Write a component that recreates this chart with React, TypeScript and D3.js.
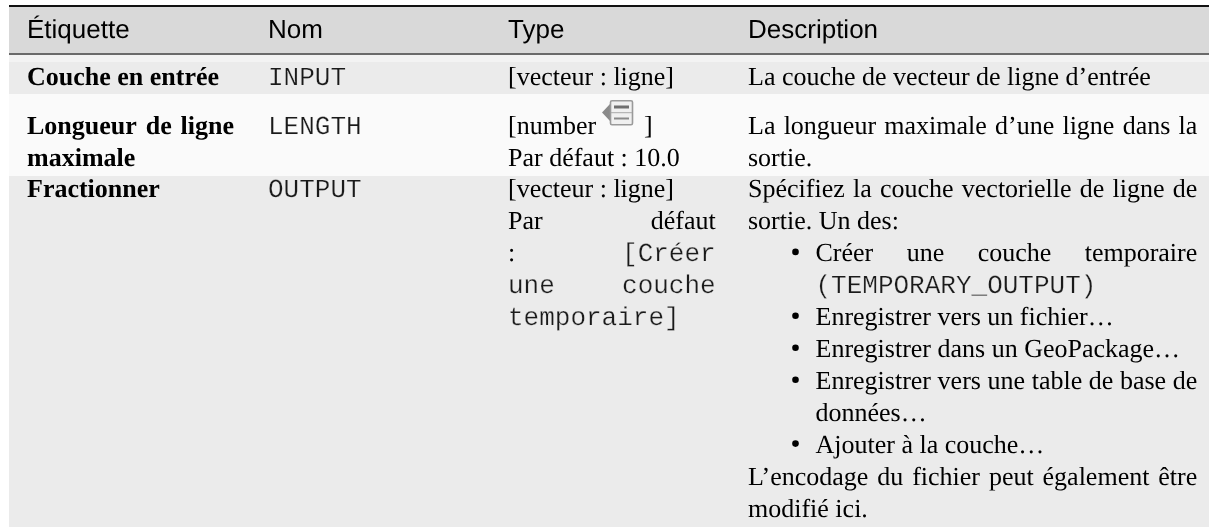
import React, { useEffect, useRef } from "react";
import * as d3 from "d3";

const W = 1209;
const H = 528;

// ---- content ----
const headers = ["Étiquette", "Nom", "Type", "Description"];
const nameCells = ["INPUT", "LENGTH", "OUTPUT"];

type Piece = { t: string; mono?: boolean };
type Line = { words: Piece[]; justify?: boolean; bullet?: boolean; indent?: boolean };

const s = (t: string, justify = false, bullet = false, indent = false): Line => ({
  words: justify ? t.split(" ").map((w) => ({ t: w })) : [{ t }],
  justify,
  bullet,
  indent,
});

const label0: Line[] = [s("Couche en entrée")];
const label1: Line[] = [s("Longueur de ligne", true), s("maximale")];
const label2: Line[] = [s("Fractionner")];

const type0: Line[] = [s("[vecteur : ligne]")];
const type1: Line[] = [s("Par défaut : 10.0")];
const type2: Line[] = [
  s("[vecteur : ligne]"),
  s("Par défaut", true),
  { words: [{ t: ":" }, { t: "[Créer", mono: true }], justify: true },
  { words: [{ t: "une", mono: true }, { t: "couche", mono: true }], justify: true },
  { words: [{ t: "temporaire]", mono: true }] },
];

const desc0: Line[] = [s("La couche de vecteur de ligne d’entrée")];
const desc1: Line[] = [s("La longueur maximale d’une ligne dans la", true), s("sortie.")];
const desc2: Line[] = [
  s("Spécifiez la couche vectorielle de ligne de", true),
  s("sortie. Un des:"),
  s("Créer une couche temporaire", true, true, true),
  { words: [{ t: "(TEMPORARY_OUTPUT)", mono: true }], indent: true },
  s("Enregistrer vers un fichier…", false, true, true),
  s("Enregistrer dans un GeoPackage…", false, true, true),
  s("Enregistrer vers une table de base de", true, true, true),
  s("données…", false, false, true),
  s("Ajouter à la couche…", false, true, true),
  s("L’encodage du fichier peut également être", true),
  s("modifié ici."),
];

const rowBands = [
  { top: 62, bottom: 94, fill: "#ebebeb" },
  { top: 94, bottom: 176, fill: "#fafafa" },
  { top: 176, bottom: 527, fill: "#ebebeb" },
];

const SERIF = "'Liberation Serif', serif";
const SANS = "'Liberation Sans', sans-serif";
const MONO = "'Liberation Mono', monospace";
const FS = 26;

export default function App() {
  const ref = useRef<SVGSVGElement>(null);

  useEffect(() => {
    const svg = d3.select(ref.current!);
    svg.selectAll("*").remove();

    const x = d3.scaleOrdinal<string, number>().domain(headers).range([27, 268, 508, 748]);
    const labelRight = 234;
    const typeRight = 715.7;
    const descRight = 1197.3;
    const bulletX = 795.5;
    const indentX = 815.5;
    const lineStep = d3.scaleLinear().domain([0, 1]).range([0, 31.95]);

    const rect = (x0: number, y0: number, x1: number, y1: number, fill: string, g: any = svg) =>
      g.append("rect").attr("x", x0).attr("y", y0).attr("width", x1 - x0).attr("height", y1 - y0).attr("fill", fill);

    // backgrounds
    rect(9, 7, W, 53, "#d9d9d9");
    rect(9, 55, W, 62, "#f3f3f3");
    rowBands.forEach((b) => rect(9, b.top, W, b.bottom, b.fill));
    rect(9, 5, W, 7, "#111111");
    rect(9, 53, W, 55, "#6a6a6a");

    const text = (t: string, px: number, py: number, font: string, weight = "normal") => {
      const sel = svg
        .append("text")
        .attr("x", px)
        .attr("y", py)
        .attr("font-family", font)
        .attr("font-size", FS)
        .attr("font-weight", weight)
        .attr("fill", font === MONO ? "#1a1a1a" : "#000")
        .style("white-space", "pre")
        .style("text-rendering", "geometricPrecision")
        .text(t);
      if (font === MONO) sel.attr("stroke", "#eeeeee").attr("stroke-width", 0.25);
      return sel;
    };

    const drawLines = (lines: Line[], left: number, right: number, y0: number, weight = "normal") => {
      lines.forEach((ln, i) => {
        const y = y0 + lineStep(i);
        const start = ln.indent ? indentX : left;
        if (ln.bullet) svg.append("circle").attr("cx", bulletX).attr("cy", y - 9).attr("r", 3.3).attr("fill", "#000");
        const nodes = ln.words.map((w) => text(w.t, start, y, w.mono ? MONO : SERIF, weight));
        if (ln.justify && nodes.length > 1) {
          const widths = nodes.map((n: any) => (n.node() as SVGTextElement).getComputedTextLength());
          const gap = (right - start - d3.sum(widths)) / (nodes.length - 1);
          let cur = start;
          nodes.forEach((n: any, k: number) => {
            n.attr("x", cur);
            cur += widths[k] + gap;
          });
        }
      });
    };

    // header
    headers.forEach((h) => text(h, x(h), 38, SANS));

    const rowY = [85, 134, 197];

    // label column
    drawLines(label0, x(headers[0]), labelRight, rowY[0], "bold");
    drawLines(label1, x(headers[0]), labelRight, rowY[1], "bold");
    drawLines(label2, x(headers[0]), labelRight, rowY[2], "bold");

    // name column
    nameCells.forEach((t, r) => text(t, x(headers[1]), rowY[r], MONO));

    // type column
    drawLines(type0, x(headers[2]), typeRight, rowY[0]);
    text("[number", x(headers[2]), rowY[1], SERIF);
    text("]", 644, rowY[1], SERIF);
    drawLines(type1, x(headers[2]), typeRight, rowY[1] + lineStep(1));
    drawLines(type2, x(headers[2]), typeRight, rowY[2]);

    // description column
    drawLines(desc0, x(headers[3]), descRight, rowY[0]);
    drawLines(desc1, x(headers[3]), descRight, rowY[1]);
    drawLines(desc2, x(headers[3]), descRight, rowY[2]);

    // parameter icon
    const icon = svg.append("g").attr("transform", "translate(602,100)");
    icon.append("path").attr("d", d3.line()([[0, 12.5], [8, 4], [8, 21]])!).attr("fill", "#8a8a8a");
    icon
      .append("rect")
      .attr("x", 8.5)
      .attr("y", 0.8)
      .attr("width", 22)
      .attr("height", 24)
      .attr("rx", 1.5)
      .attr("fill", "#f0f0f0")
      .attr("stroke", "#9a9a9a")
      .attr("stroke-width", 1.6);
    rect(12, 5.5, 27, 8.5, "#6f6f6f", icon);
    rect(9, 12.2, 30, 13.2, "#a8a8a8", icon);
    rect(12, 17.5, 27, 19.5, "#8a8a8a", icon);
  }, []);

  return (
    <svg
      ref={ref}
      width={W}
      height={H}
      viewBox={`0 0 ${W} ${H}`}
      style={{ position: "absolute", left: 0, top: 0, background: "#fff", filter: "blur(0.35px)" }}
    />
  );
}
